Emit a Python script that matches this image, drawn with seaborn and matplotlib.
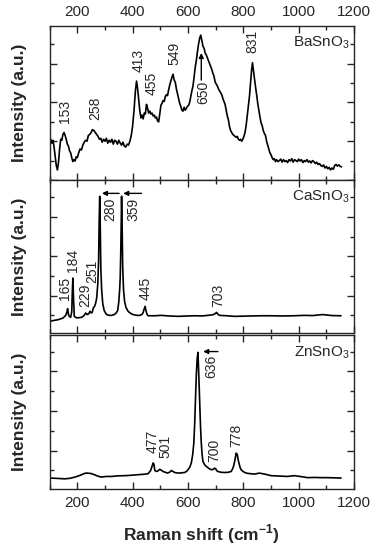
import matplotlib
matplotlib.use("Agg")
import matplotlib.pyplot as plt
from matplotlib.ticker import MultipleLocator
import seaborn as sns
import pandas as pd

sns.set_style("ticks")
plt.rcParams['font.family'] = ['Liberation Sans', 'DejaVu Sans']
plt.rcParams['mathtext.fontset'] = 'custom'
plt.rcParams['mathtext.rm'] = 'Liberation Sans'
plt.rcParams['mathtext.bf'] = 'Liberation Sans:bold'

# ---------------- data (Raman shift, intensity a.u.) ----------------
ba_x = [100,104,108,112,116,120,124,128,132,136,140,144,148,152,156,160,164,168,172,176,180,184,188,192,196,200,
        205,210,215,220,225,230,235,240,245,250,255,260,265,270,275,280,285,290,295,300,305,310,315,320,325,330,
        335,340,345,350,355,360,365,370,375,380,385,390,395,400,405,410,414,418,422,426,430,434,438,442,446,450,
        454,458,462,466,470,474,478,482,486,490,494,498,502,506,510,514,518,522,526,530,534,538,542,546,550,554,
        558,562,566,570,574,578,582,586,590,594,598,602,606,610,614,618,622,626,630,634,638,642,646,650,654,658,
        662,666,670,674,678,682,686,690,694,698,702,706,710,714,718,722,726,730,734,738,742,746,750,754,758,762,
        766,770,774,778,782,786,790,794,798,802,806,810,814,818,822,826,830,833,836,840,844,848,852,856,860,864,
        868,872,876,880,884,888,892,896,900,904,908,912,916,920,925,930,935,940,945,950,955,960,965,970,975,980,
        985,990,995,1000,1005,1010,1015,1020,1025,1030,1035,1040,1045,1050,1055,1060,1065,1070,1075,1080,1085,
        1090,1095,1100,1105,1110,1115,1120,1125,1130,1135,1140,1145,1150,1155]
ba_y = [1.95,2.10,1.90,2.05,1.70,1.20,0.75,0.52,0.90,1.60,2.10,2.05,2.35,2.45,2.30,2.10,1.85,1.75,1.50,1.40,1.15,0.95,
        1.05,0.98,1.20,1.15,1.40,1.60,1.55,1.80,1.95,2.05,2.00,2.30,2.35,2.45,2.60,2.55,2.45,2.35,2.25,2.10,2.15,
        1.95,2.10,2.00,2.15,1.90,2.05,1.95,2.10,1.85,2.05,2.00,1.85,2.05,1.90,1.80,1.95,1.75,1.70,1.85,1.80,2.00,
        2.30,2.80,3.60,4.60,5.10,4.70,4.10,3.55,3.20,3.35,3.15,3.45,3.40,3.90,3.70,3.45,3.55,3.40,3.45,3.30,3.35,
        3.20,3.25,3.05,3.00,3.40,3.85,3.95,4.10,4.05,4.30,4.40,4.35,4.65,4.90,5.10,5.30,5.45,5.15,5.05,4.70,4.45,
        4.20,3.95,3.80,3.60,3.55,3.75,3.60,3.70,3.80,3.85,4.00,4.30,4.60,4.85,5.30,5.80,6.15,6.60,7.00,7.30,7.47,
        7.20,6.90,6.80,6.55,6.45,6.30,6.15,6.00,5.85,5.70,5.50,5.35,5.05,4.95,4.85,4.70,4.60,4.50,4.40,4.20,4.05,
        3.90,3.60,3.30,3.10,2.75,2.55,2.45,2.35,2.30,2.25,2.20,2.25,2.10,2.05,2.10,2.00,2.10,2.25,2.45,2.80,3.30,
        3.80,4.30,5.00,5.70,6.05,5.70,5.25,4.80,4.40,3.95,3.60,3.25,2.95,2.80,2.55,2.40,2.30,2.00,1.80,1.60,1.40,
        1.30,1.15,1.05,1.10,0.95,1.05,0.95,1.00,1.08,0.92,1.05,0.95,1.00,0.90,1.05,0.98,1.10,0.92,1.05,1.00,0.95,
        1.08,0.98,1.05,0.90,1.00,0.95,1.05,0.92,0.98,0.88,1.00,0.95,0.85,0.92,0.80,0.85,0.75,0.70,0.78,0.62,0.70,
        0.58,0.65,0.52,0.62,0.55,0.75,0.80,0.72,0.78,0.70,0.68]

ca_x = [100,115,131,149,158,162,165,168,171,176,180,182,184,186,189,198,216,225,230,234,237,242,246,250,254,258,
        262,266,270,274,277,279,281,283,285,288,292,297,305,315,324,335,342,346,350,353,355,357,359,360,362,364,
        367,371,376,384,395,402,415,426,434,438,441,445,448,452,456,480,504,530,564,600,624,650,672,690,696,700,
        703,706,710,714,740,768,800,830,864,900,940,984,1020,1050,1086,1120,1153]
ca_y = [0.70,0.74,0.78,0.87,1.00,1.15,1.34,1.05,0.95,0.90,1.20,2.20,2.90,2.00,0.95,0.87,0.90,1.00,1.12,1.06,1.04,1.10,
        1.21,1.12,1.16,1.38,1.45,1.60,1.88,2.60,3.80,5.80,7.06,5.50,3.40,2.30,1.60,1.25,1.05,1.00,1.00,1.05,1.15,
        1.25,1.70,2.30,2.90,4.20,6.00,7.06,5.50,3.50,2.30,1.70,1.40,1.20,1.08,1.04,1.00,1.00,1.05,1.15,1.30,1.46,
        1.25,1.05,0.98,0.98,1.00,0.97,0.95,0.97,0.98,0.97,1.00,1.03,1.07,1.11,1.15,1.10,1.03,1.00,0.98,0.95,0.96,
        0.97,0.98,0.98,0.97,0.98,1.00,0.99,1.04,0.99,0.98]

zn_x = [100,130,155,175,192,205,216,225,234,243,252,261,270,280,288,305,324,345,372,395,420,440,456,465,470,474,477,
        480,486,492,498,504,510,518,526,533,540,546,552,560,570,580,588,595,600,606,612,617,621,624,627,630,633,
        636,639,642,645,648,651,654,660,666,675,684,692,696,700,704,708,720,732,745,756,762,766,770,774,778,781,
        784,788,792,800,810,825,840,858,880,900,930,960,984,1010,1032,1060,1080,1104,1130,1153]
zn_y = [0.61,0.59,0.57,0.60,0.66,0.72,0.78,0.84,0.86,0.85,0.83,0.78,0.73,0.68,0.66,0.69,0.69,0.72,0.73,0.75,0.78,0.80,
        0.83,0.99,1.20,1.37,1.30,0.99,0.94,0.98,1.05,1.00,0.94,0.90,0.86,0.90,0.99,0.94,0.89,0.87,0.86,0.88,0.89,
        0.95,1.03,1.15,1.37,1.80,2.38,3.30,4.57,5.80,6.60,6.96,5.80,4.57,3.30,2.38,1.80,1.45,1.28,1.20,1.10,1.03,
        1.05,1.11,1.08,0.98,0.94,0.90,0.89,0.90,0.94,1.10,1.28,1.55,1.87,1.80,1.55,1.37,1.15,1.03,0.93,0.86,0.83,
        0.81,0.86,0.80,0.73,0.71,0.69,0.73,0.68,0.63,0.64,0.63,0.63,0.62,0.61]

names = ['BaSnO$_3$', 'CaSnO$_3$', 'ZnSnO$_3$']

ba_lab = ['153', '258', '413', '455', '549', '650', '831']
ba_lab_x = [155, 264, 420, 468, 552, 654, 834]
ba_lab_y = [2.92, 3.09, 5.58, 4.38, 5.93, 5.10, 6.53]
ba_lab_va = ['bottom', 'bottom', 'bottom', 'bottom', 'bottom', 'top', 'bottom']

ca_lab = ['165', '184', '229', '251', '280', '359', '445', '703']
ca_lab_x = [155, 183, 228, 255, 318, 402, 447, 708]
ca_lab_y = [1.78, 3.22, 1.44, 2.65, 6.97, 6.97, 1.78, 1.44]
ca_lab_va = ['bottom', 'bottom', 'bottom', 'bottom', 'top', 'top', 'bottom', 'bottom']

zn_lab = ['477', '501', '636', '700', '778']
zn_lab_x = [473, 520, 685, 696, 776]
zn_lab_y = [1.86, 1.61, 6.82, 1.43, 2.19]
zn_lab_va = ['bottom', 'bottom', 'top', 'bottom', 'bottom']

# arrows: (x_tail, y_tail, x_head, y_head)
ba_arrows = [(648, 5.15, 648, 6.55)]
ca_arrows = [(351, 7.21, 289, 7.21), (432, 7.21, 366, 7.21)]
zn_arrows = [(708, 7.0, 655, 7.0)]

# ---------------- figure ----------------
fig = plt.figure(figsize=(3.76, 5.5), dpi=100)
L, W = 0.132, 0.8096
rects = [(L, 0.6727, W, 0.2800), (L, 0.3940, W, 0.2787), (L, 0.1109, W, 0.2805)]
ylims = [(0.0, 7.94), (0.087, 7.89), (0.056, 7.85)]
name_y = [0.945, 0.948, 0.935]

series = [(ba_x, ba_y, ba_lab, ba_lab_x, ba_lab_y, ba_lab_va, ba_arrows),
          (ca_x, ca_y, ca_lab, ca_lab_x, ca_lab_y, ca_lab_va, ca_arrows),
          (zn_x, zn_y, zn_lab, zn_lab_x, zn_lab_y, zn_lab_va, zn_arrows)]

for i, (rect, (xs, ys, labs, lx, ly, lva, arrows)) in enumerate(zip(rects, series)):
    ax = fig.add_axes(rect)
    df = pd.DataFrame({'x': xs, 'y': ys})
    sns.lineplot(data=df, x='x', y='y', ax=ax, color='black', linewidth=1.2,
                 estimator=None, sort=False)
    ax.set_xlim(100, 1200)
    ax.set_ylim(*ylims[i])
    ax.xaxis.set_major_locator(MultipleLocator(200))
    ax.xaxis.set_minor_locator(MultipleLocator(100))
    ax.yaxis.set_major_locator(MultipleLocator(2))
    ax.yaxis.set_minor_locator(MultipleLocator(1))
    ax.tick_params(which='both', direction='in', top=True, right=True, bottom=True, left=True,
                   width=1.0, labelleft=False, labelsize=11, pad=5)
    ax.tick_params(which='major', length=5)
    ax.tick_params(which='minor', length=3)
    for s in ax.spines.values():
        s.set_linewidth(1.0)
    ax.set_ylabel('Intensity (a.u.)', fontsize=12.5, fontweight='bold', labelpad=16)
    if i == 0:
        ax.tick_params(labeltop=True, labelbottom=False)
        ax.set_xlabel('')
    elif i == 1:
        ax.tick_params(labeltop=False, labelbottom=False)
        ax.set_xlabel('')
    else:
        ax.tick_params(labeltop=False, labelbottom=True)
        ax.set_xlabel('Raman shift (cm$^{\\mathbf{-1}}$)', fontsize=12.5, fontweight='bold', labelpad=9)
    ax.text(0.985, name_y[i], names[i], transform=ax.transAxes, ha='right', va='top', fontsize=11)
    for t, x, y, va in zip(labs, lx, ly, lva):
        ax.text(x, y, t, rotation=90, ha='center', va=va, fontsize=10)
    for (x0, y0, x1, y1) in arrows:
        ax.annotate('', xy=(x1, y1), xytext=(x0, y0),
                    arrowprops=dict(arrowstyle='-|>', color='black', lw=1.0,
                                    mutation_scale=7, shrinkA=0, shrinkB=0))

fig.savefig('out.png', dpi=100)
